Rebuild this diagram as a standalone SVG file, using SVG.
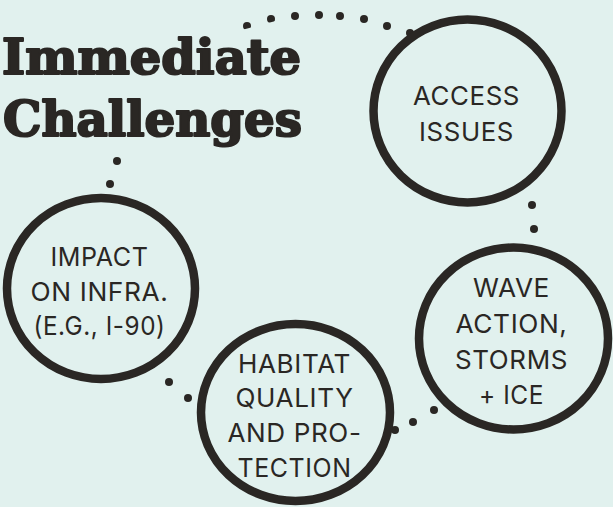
<svg xmlns="http://www.w3.org/2000/svg" width="613" height="507" viewBox="0 0 613 507">
  <style>
    .bg { fill: #e1f1ee; }
    .ring { fill: none; stroke: #2a2724; stroke-width: 8.5; }
    .dot { fill: #2a2724; }
    .label { font-family: Inter, "Noto Sans", sans-serif; font-size: 26px; fill: #2a2724; text-anchor: middle; letter-spacing: 0.6px; }
    .title { font-family: "DejaVu Serif", "Liberation Serif", serif; font-weight: bold; font-size: 49px; fill: #2a2724; stroke: #2a2724; stroke-width: 2.2; stroke-linejoin: round; }
  </style>
  <defs>
    <clipPath id="cut">
      <polygon points="230,0 300,0 300,14.5 230,33"/>
    </clipPath>
  </defs>
  <rect class="bg" x="0" y="0" width="613" height="507"/>

  <g id="connectors">
    <g clip-path="url(#cut)">
      <circle class="dot" cx="247" cy="26" r="4"/>
      <circle class="dot" cx="271" cy="19" r="4"/>
    </g>
    <circle class="dot" cx="295" cy="16" r="4"/>
    <circle class="dot" cx="319" cy="15" r="4"/>
    <circle class="dot" cx="340" cy="16" r="4"/>
    <circle class="dot" cx="364" cy="19" r="4"/>
    <circle class="dot" cx="387" cy="26" r="4"/>
    <circle class="dot" cx="410" cy="33" r="4"/>
    <circle class="dot" cx="532" cy="205" r="4"/>
    <circle class="dot" cx="534" cy="229" r="4"/>
    <circle class="dot" cx="434" cy="410" r="4"/>
    <circle class="dot" cx="413" cy="422" r="4"/>
    <circle class="dot" cx="395" cy="430" r="4"/>
    <circle class="dot" cx="188" cy="398" r="4"/>
    <circle class="dot" cx="169" cy="382" r="4"/>
    <circle class="dot" cx="110" cy="184" r="4"/>
    <circle class="dot" cx="117" cy="161" r="4"/>
  </g>

  <g id="title">
    <text class="title" x="2" y="74" textLength="299" lengthAdjust="spacingAndGlyphs">Immediate</text>
    <text class="title" x="3" y="136" textLength="299" lengthAdjust="spacingAndGlyphs">Challenges</text>
  </g>

  <g id="node-access">
    <ellipse class="ring" cx="467.5" cy="111" rx="94" ry="91.5"/>
    <text class="label" x="466.5" y="105" textLength="107" lengthAdjust="spacingAndGlyphs">ACCESS</text>
    <text class="label" x="466.5" y="141" textLength="95" lengthAdjust="spacingAndGlyphs">ISSUES</text>
  </g>

  <g id="node-impact">
    <ellipse class="ring" cx="101" cy="288.5" rx="94" ry="90.5"/>
    <text class="label" x="99.5" y="266" textLength="98" lengthAdjust="spacingAndGlyphs">IMPACT</text>
    <text class="label" x="99.5" y="301" textLength="138" lengthAdjust="spacingAndGlyphs">ON INFRA.</text>
    <text class="label" x="99.5" y="335" textLength="132" lengthAdjust="spacingAndGlyphs">(E.G., I-90)</text>
  </g>

  <g id="node-habitat">
    <ellipse class="ring" cx="295.5" cy="412.5" rx="94.5" ry="88.5"/>
    <text class="label" x="294.5" y="373" textLength="113" lengthAdjust="spacingAndGlyphs">HABITAT</text>
    <text class="label" x="294.5" y="407" textLength="118" lengthAdjust="spacingAndGlyphs">QUALITY</text>
    <text class="label" x="294.5" y="442" textLength="134" lengthAdjust="spacingAndGlyphs">AND PRO-</text>
    <text class="label" x="294.5" y="477" textLength="114" lengthAdjust="spacingAndGlyphs">TECTION</text>
  </g>

  <g id="node-wave">
    <ellipse class="ring" cx="513.5" cy="338.5" rx="94.5" ry="91"/>
    <text class="label" x="511.5" y="297" textLength="77" lengthAdjust="spacingAndGlyphs">WAVE</text>
    <text class="label" x="511.5" y="333" textLength="112" lengthAdjust="spacingAndGlyphs">ACTION,</text>
    <text class="label" x="511.5" y="368.5" textLength="113" lengthAdjust="spacingAndGlyphs">STORMS</text>
    <text class="label" x="511.5" y="404" textLength="65" lengthAdjust="spacingAndGlyphs">+ ICE</text>
  </g>
</svg>
